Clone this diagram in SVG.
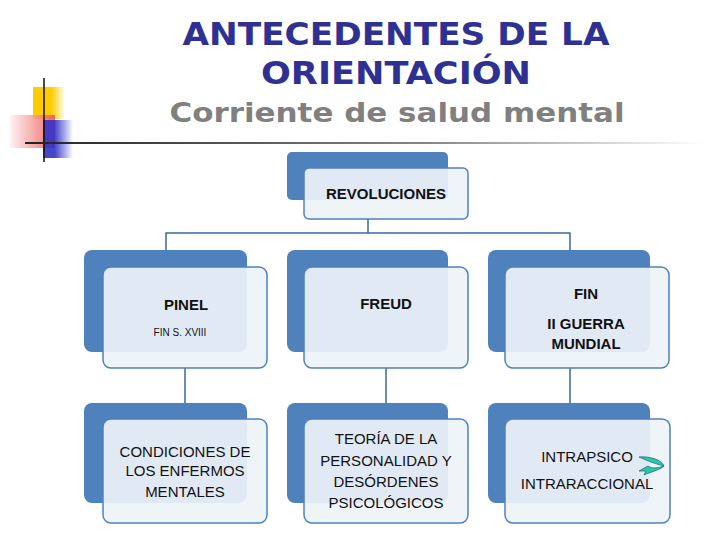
<svg xmlns="http://www.w3.org/2000/svg" width="728" height="546" viewBox="0 0 728 546">
<defs>
<linearGradient id="hl" x1="0" x2="1" y1="0" y2="0"><stop offset="0" stop-color="#222"/><stop offset="0.6" stop-color="#888"/><stop offset="1" stop-color="#fff"/></linearGradient>
<linearGradient id="rd" x1="1" x2="0"><stop offset="0" stop-color="#f05050"/><stop offset="1" stop-color="#fff0f0"/></linearGradient>
<linearGradient id="bl" x1="0" x2="1"><stop offset="0.4" stop-color="#3232c8"/><stop offset="1" stop-color="#fff"/></linearGradient>
<linearGradient id="yl" x1="0" x2="1"><stop offset="0.6" stop-color="#ffcc00"/><stop offset="1" stop-color="#fff8d0"/></linearGradient>
<style>
.b{fill:#4f81bd}
.w{fill:#eef3f8;fill-opacity:0.92;stroke:#4f81bd;stroke-width:1.5}
.t{font-family:"Liberation Sans",Arial,sans-serif;font-size:15px;fill:#111;text-anchor:middle}
.s{font-size:10px}
.c{stroke:#3e6a9a;stroke-width:1.5;fill:none}
</style>
</defs>
<rect width="728" height="546" fill="#fff"/>
<rect x="33" y="87" width="30" height="32" fill="url(#yl)"/>
<rect x="10" y="115" width="45" height="33" fill="url(#rd)" opacity="0.85"/>
<rect x="43" y="120" width="30" height="38" fill="url(#bl)" opacity="0.9"/>
<line x1="44" y1="78" x2="44" y2="162" stroke="#111" stroke-width="1.5"/>
<rect x="25" y="142" width="680" height="2" fill="url(#hl)"/>
<text x="396" y="45" font-family="DejaVu Sans,sans-serif" font-weight="900" font-size="32" fill="#2e3192" text-anchor="middle" textLength="427" lengthAdjust="spacingAndGlyphs">ANTECEDENTES DE LA</text>
<text x="396" y="84" font-family="DejaVu Sans,sans-serif" font-weight="900" font-size="32" fill="#2e3192" text-anchor="middle" textLength="270" lengthAdjust="spacingAndGlyphs">ORIENTACIÓN</text>
<text x="397" y="122" font-family="DejaVu Sans,sans-serif" font-weight="900" font-size="26" fill="#808080" text-anchor="middle" textLength="455" lengthAdjust="spacingAndGlyphs">Corriente de salud mental</text>
<g id="connectors" class="c">
<path d="M368 219V233M166 250V233H570V250"/>
<path d="M185 368V403M386 368V403M570 368V403"/>
</g>
<g id="n0"><rect class="b" x="287" y="152" width="161" height="48" rx="5"/><rect class="w" x="304" y="168" width="164" height="51" rx="5"/><text class="t" x="386" y="199" font-weight="bold">REVOLUCIONES</text></g>
<g id="n1"><rect class="b" x="84" y="250" width="163" height="102" rx="8"/><rect class="w" x="103" y="267" width="164" height="101" rx="8"/><text class="t" x="186" y="310" font-weight="bold">PINEL</text><text class="t s" x="180" y="336">FIN S. XVIII</text></g>
<g id="n2"><rect class="b" x="287" y="250" width="161" height="102" rx="8"/><rect class="w" x="304" y="267" width="164" height="101" rx="8"/><text class="t" x="386" y="309" font-weight="bold">FREUD</text></g>
<g id="n3"><rect class="b" x="488" y="250" width="162" height="102" rx="8"/><rect class="w" x="505" y="267" width="164" height="101" rx="8"/><text class="t" x="586" y="299" font-weight="bold">FIN</text><text class="t" x="586" y="329" font-weight="bold">II GUERRA</text><text class="t" x="586" y="349" font-weight="bold">MUNDIAL</text></g>
<g id="n4"><rect class="b" x="84" y="403" width="163" height="100" rx="8"/><rect class="w" x="103" y="419" width="164" height="104" rx="8"/><text class="t" x="185" y="457">CONDICIONES DE</text><text class="t" x="185" y="476">LOS ENFERMOS</text><text class="t" x="185" y="497">MENTALES</text></g>
<g id="n5"><rect class="b" x="287" y="403" width="161" height="100" rx="8"/><rect class="w" x="304" y="419" width="164" height="104" rx="8"/><text class="t" x="386" y="444">TEORÍA DE LA</text><text class="t" x="386" y="466">PERSONALIDAD Y</text><text class="t" x="386" y="487">DESÓRDENES</text><text class="t" x="386" y="508">PSICOLÓGICOS</text></g>
<g id="n6"><rect class="b" x="488" y="403" width="162" height="100" rx="8"/><rect class="w" x="505" y="419" width="165" height="104" rx="8"/><text class="t" x="587" y="462">INTRAPSICO</text><text class="t" x="587" y="489">INTRARACCIONAL</text>
<path d="M639 457C650 456 662 460 664 466C656 464 650 462 639 457Z" fill="#2ec4a8" stroke="#1a7a80" stroke-width="0.8"/>
<path d="M664 466C660 470 650 472 644 475L646 471L639 471L648 466C652 469 658 468 664 466Z" fill="#2ec4a8" stroke="#1a7a80" stroke-width="0.8"/></g>
</svg>
